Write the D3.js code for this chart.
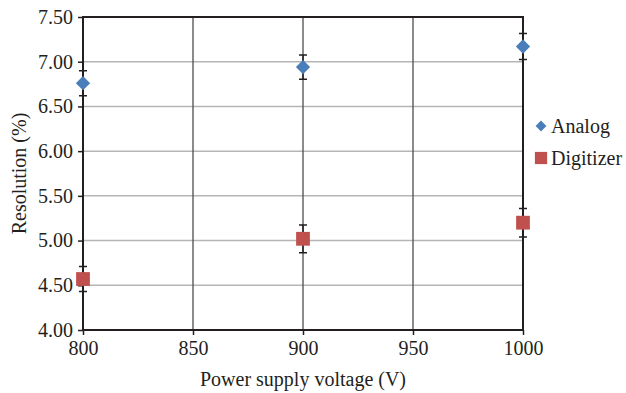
<!DOCTYPE html>
<html>
<head>
<meta charset="utf-8">
<script src="https://d3js.org/d3.v7.min.js"></script>
<style>
  body { margin: 0; background: #fff; }
  text { font-family: "Liberation Serif", "DejaVu Serif", serif; fill: #231f20; }
</style>
</head>
<body>
<svg width="626" height="393"></svg>
<script>
var voltages = [800, 900, 1000];
var analog = [6.76, 6.94, 7.17];
var analogErr = [0.14, 0.135, 0.145];
var digitizer = [4.57, 5.02, 5.20];
var digitizerErr = [0.14, 0.155, 0.16];
var xTicks = [800, 850, 900, 950, 1000];
var yTicks = [4.0, 4.5, 5.0, 5.5, 6.0, 6.5, 7.0, 7.5];
var seriesNames = ["Analog", "Digitizer"];
var seriesColors = ["#4a7ebb", "#c0504d"];

var svg = d3.select("svg");
var plotL = 83, plotR = 523, plotT = 17, plotB = 330;

var x = d3.scaleLinear().domain([800, 1000]).range([plotL, plotR]);
var y = d3.scaleLinear().domain([4, 7.5]).range([plotB, plotT]);

// horizontal gridlines
svg.append("g").selectAll("line")
    .data(yTicks)
    .enter().append("line")
    .attr("x1", plotL).attr("x2", plotR)
    .attr("y1", function(d) { return y(d); })
    .attr("y2", function(d) { return y(d); })
    .attr("stroke", "#b5b5b5")
    .attr("stroke-width", 1.5);

// vertical gridlines
svg.append("g").selectAll("line")
    .data(xTicks)
    .enter().append("line")
    .attr("y1", plotT).attr("y2", plotB)
    .attr("x1", function(d) { return x(d); })
    .attr("x2", function(d) { return x(d); })
    .attr("stroke", "#4d4d4d")
    .attr("stroke-width", 1.3);

// frame
svg.append("rect")
    .attr("x", plotL).attr("y", plotT)
    .attr("width", plotR - plotL).attr("height", plotB - plotT)
    .attr("fill", "none")
    .attr("stroke", "#231f20")
    .attr("stroke-width", 2);

// axes
var yAxis = svg.append("g")
    .attr("transform", "translate(" + plotL + ",0)")
    .call(d3.axisLeft(y).tickValues(yTicks).tickSize(5).tickPadding(5).tickFormat(d3.format(".2f")));
var xAxis = svg.append("g")
    .attr("transform", "translate(0," + plotB + ")")
    .call(d3.axisBottom(x).tickValues(xTicks).tickSize(5).tickPadding(6).tickFormat(d3.format("d")));

[xAxis, yAxis].forEach(function(a) {
    a.select(".domain").remove();
    a.selectAll(".tick line").attr("stroke", "#231f20").attr("stroke-width", 1.5);
    a.selectAll(".tick text").style("font-size", "20px").attr("fill", "#231f20");
});

// axis titles
svg.append("text")
    .attr("x", 303).attr("y", 386)
    .attr("text-anchor", "middle")
    .style("font-size", "20px")
    .text("Power supply voltage (V)");

svg.append("text")
    .attr("transform", "translate(26," + ((plotT + plotB) / 2) + ") rotate(-90)")
    .attr("text-anchor", "middle")
    .style("font-size", "20px")
    .text("Resolution (%)");

var series = [
    { name: seriesNames[0], values: analog, err: analogErr, color: seriesColors[0], shape: d3.symbolDiamond2, size: 130 },
    { name: seriesNames[1], values: digitizer, err: digitizerErr, color: seriesColors[1], shape: d3.symbolSquare, size: 190 }
];

series.forEach(function(s) {
    var pts = voltages.map(function(v, i) { return { v: v, val: s.values[i], e: s.err[i] }; });
    var g = svg.append("g");
    // error bars
    g.selectAll("path.err")
        .data(pts)
        .enter().append("path")
        .attr("class", "err")
        .attr("d", function(d) {
            var cx = x(d.v), y1 = y(d.val + d.e), y2 = y(d.val - d.e);
            return "M" + (cx - 4) + "," + y1 + "H" + (cx + 4) +
                   "M" + cx + "," + y1 + "V" + y2 +
                   "M" + (cx - 4) + "," + y2 + "H" + (cx + 4);
        })
        .attr("stroke", "#231f20")
        .attr("stroke-width", 1.5)
        .attr("fill", "none");
    // markers
    g.selectAll("path.mark")
        .data(pts)
        .enter().append("path")
        .attr("class", "mark")
        .attr("d", d3.symbol().type(s.shape).size(s.size))
        .attr("transform", function(d) { return "translate(" + x(d.v) + "," + y(d.val) + ")"; })
        .attr("fill", s.color);
});

// legend
var legend = svg.append("g").attr("transform", "translate(541,126)");
series.forEach(function(s, i) {
    var row = legend.append("g").attr("transform", "translate(0," + (i * 32) + ")");
    row.append("path")
        .attr("d", d3.symbol().type(s.shape).size(i === 0 ? 75 : 150))
        .attr("fill", s.color);
    row.append("text")
        .attr("x", 10).attr("y", 7)
        .style("font-size", "20px")
        .text(s.name);
});
</script>
</body>
</html>
